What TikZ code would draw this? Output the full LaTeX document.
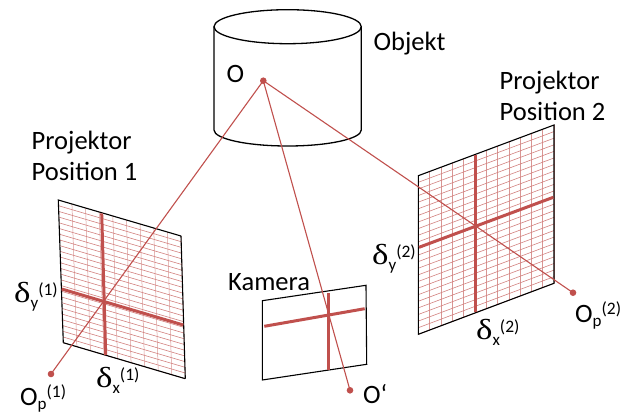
\documentclass[tikz,border=0pt]{standalone}
\usepackage{fontspec}
\setmainfont{Carlito}
\newfontfamily\greekfont{Liberation Serif}
\usetikzlibrary{calc}
\definecolor{redline}{HTML}{C0504D}
\newcommand{\subsup}[3]{#1\raisebox{-4pt}{\fontsize{17}{17}\selectfont #2}\raisebox{8pt}{\fontsize{17.5}{17}\selectfont (#3)}}
\newcommand{\dlt}[2]{\scalebox{1.2}[1]{\greekfont\fontsize{29}{29}\selectfont δ}\raisebox{-6pt}{\fontsize{17}{17}\selectfont #1}\raisebox{7pt}{\fontsize{17.5}{17}\selectfont (#2)}}
\newcommand{\gridlines}[6]{%
 \foreach \i in {1,...,#5}{\draw[gridv] ($(#1)!{\i/#5}!(#2)$) -- ($(#4)!{\i/#5}!(#3)$);}
 \foreach \i in {1,...,#6}{\draw[gridh] ($(#1)!{\i/#6}!(#4)$) -- ($(#2)!{\i/#6}!(#3)$);}}
\tikzset{
 lbl/.style={anchor=base west,inner sep=0pt,font=\fontsize{26.5}{31}\selectfont,text=black,align=left},
 frame/.style={draw=black,line width=1.1pt,line join=miter},
 gridv/.style={draw=redline!60,line width=0.5pt},
 gridh/.style={draw=redline!72,line width=0.6pt},
 thick line/.style={draw=redline,line width=3pt},
 ray/.style={draw=redline,line width=1.1pt},
 dot/.style={circle,fill=redline,inner sep=0pt,minimum size=6.6pt},
 cyl/.style={draw=black,line width=1.3pt}
}
\begin{document}
\begin{tikzpicture}[x=1pt,y=-1pt]
\useasboundingbox (0,0) rectangle (622,413);
% cylinder
\draw[cyl] (287.65,26.7) ellipse[x radius=73.65,y radius=17];
\draw[cyl] (214,26.7) -- (214,130) arc[start angle=180,end angle=0,x radius=73.65,y radius=16] -- (361.3,26.7);
% left panel
\coordinate (la) at (58.3,200); \coordinate (lb) at (181,236);
\coordinate (lc) at (185.3,378.7); \coordinate (ld) at (63.3,342.7);
\gridlines{la}{lb}{lc}{ld}{9}{25}
\draw[frame] (ld) -- (la) -- (lb);
\draw[frame] (lb) -- (lc);
\draw[frame] (ld) -- (lc);
\coordinate (lv1) at (101.7,213.3); \coordinate (lv2) at (105.7,355);
\coordinate (lh1) at (61.7,289); \coordinate (lh2) at (183.3,325);
\draw[thick line] (lv1) -- (lv2);
\draw[thick line] (lh1) -- (lh2);
% right panel
\coordinate (ra) at (418.3,175.7); \coordinate (rb) at (554,125);
\coordinate (rc) at (554,283.3); \coordinate (rd) at (418.3,334.3);
\gridlines{ra}{rb}{rc}{rd}{12}{24}
\draw[frame] (rd) -- (ra) -- (rb) -- (rc) -- cycle;
\coordinate (rv1) at (475.3,155); \coordinate (rv2) at (475.3,312.3);
\coordinate (rh1) at (419,247.3); \coordinate (rh2) at (553.3,197.3);
\draw[thick line] (rv1) -- (rv2);
\draw[thick line] (rh1) -- (rh2);
% camera
\coordinate (ca) at (262.3,300.7); \coordinate (cb) at (366,285.3);
\coordinate (cc) at (366.7,364.3); \coordinate (cd) at (262.3,380);
\draw[frame] (ca) -- (cb) -- (cc) -- (cd) -- cycle;
\coordinate (cv1) at (328.7,293.3); \coordinate (cv2) at (328.7,370);
\coordinate (ch1) at (264.3,326.3); \coordinate (ch2) at (364.7,308.7);
\draw[thick line] (cv1) -- (cv2);
\draw[thick line] (ch1) -- (ch2);
% points and rays
\node[dot] (O) at (263.3,80.7) {};
\node[dot] (Op1) at (51,374) {};
\node[dot] (Op2) at (573,292.7) {};
\node[dot] (Ocam) at (350,390.3) {};
\draw[ray] (O.center) -- (Op1.center);
\draw[ray] (O.center) -- (Op2.center);
\draw[ray] (O.center) -- (Ocam.center);
% labels
\node[lbl] (lo) at (226.5,82.5) {O};
\node[lbl] (lobj) at (373.5,50) {Objekt};
\node[lbl] (lp1a) at (31.5,149) {Projektor};
\node[lbl] (lp1b) at (31.5,180) {Position 1};
\node[lbl] (lp2a) at (499.5,89) {Projektor};
\node[lbl] (lp2b) at (499.5,120) {Position 2};
\node[lbl] (lkam) at (228,290) {Kamera};
\node[lbl] (lcam) at (363,403) {O‘};
\node[lbl] (lop1) at (20,405) {\subsup{O}{p}{1}};
\node[lbl] (lop2) at (575,322) {\subsup{O}{p}{2}};
\node[lbl] (ldy1) at (14,302) {\dlt{y}{1}};
\node[lbl] (ldx1) at (96,387) {\dlt{x}{1}};
\node[lbl] (ldy2) at (372,264) {\dlt{y}{2}};
\node[lbl] (ldx2) at (476,339) {\dlt{x}{2}};
\end{tikzpicture}
\end{document}
